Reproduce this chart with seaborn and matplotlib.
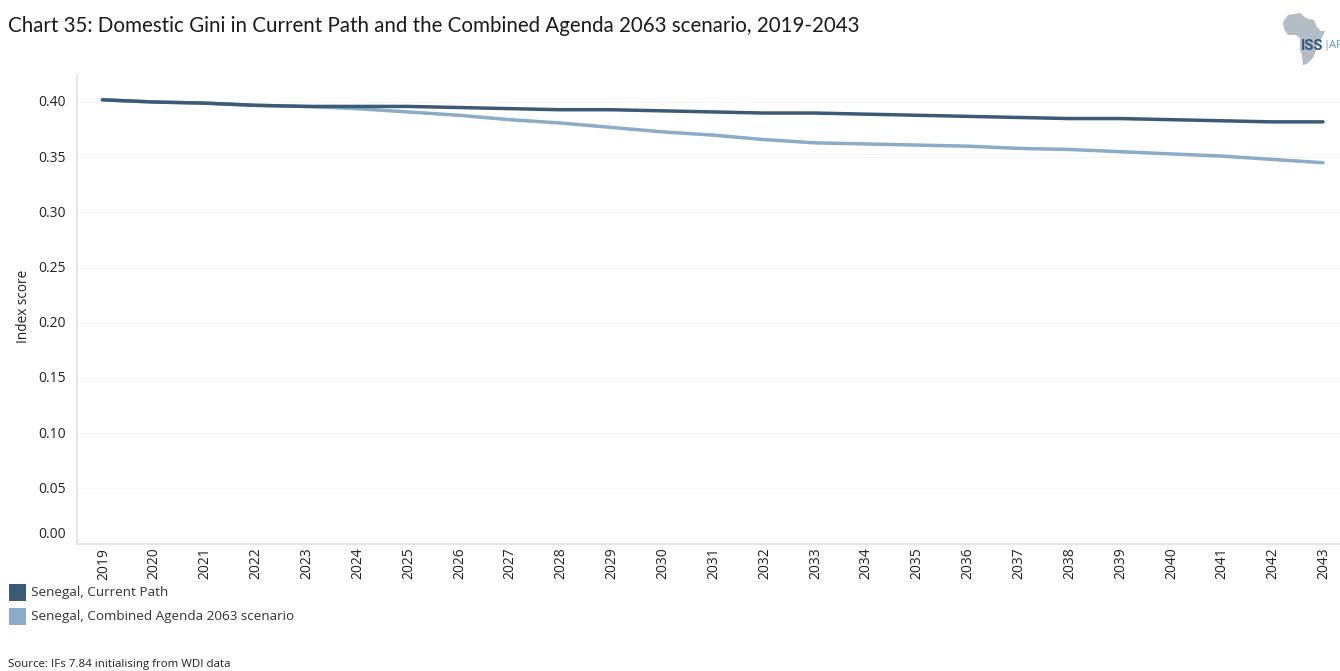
import matplotlib
matplotlib.use("Agg")
import matplotlib.pyplot as plt
from matplotlib.patches import Polygon, Rectangle
from matplotlib.transforms import ScaledTranslation
import pandas as pd
import seaborn as sns

W, H = 1340, 671

years = list(range(2019, 2044))
current_path = [0.402, 0.400, 0.399, 0.397, 0.396, 0.396, 0.396, 0.395, 0.394, 0.393, 0.393,
                0.392, 0.391, 0.390, 0.390, 0.389, 0.388, 0.387, 0.386, 0.385, 0.385,
                0.384, 0.383, 0.382, 0.382]
agenda_2063 = [0.402, 0.400, 0.399, 0.397, 0.396, 0.394, 0.391, 0.388, 0.384, 0.381, 0.377,
               0.373, 0.370, 0.366, 0.363, 0.362, 0.361, 0.360, 0.358, 0.357, 0.355,
               0.353, 0.351, 0.348, 0.345]
y_ticks = [0.00, 0.05, 0.10, 0.15, 0.20, 0.25, 0.30, 0.35, 0.40]
series_names = ["Senegal, Current Path", "Senegal, Combined Agenda 2063 scenario"]
series_colors = ["#3b5a76", "#8bacc7"]

frame = pd.concat([
    pd.DataFrame({"year": years, "gini": current_path, "series": series_names[0]}),
    pd.DataFrame({"year": years, "gini": agenda_2063, "series": series_names[1]}),
])

sns.set_theme(style="white")
plt.rcParams["font.family"] = ["Open Sans", "DejaVu Sans"]

fig = plt.figure(figsize=(W / 100, H / 100), dpi=100)

# Plot frame in pixel terms: left 77, right at the figure edge, top 75, bottom 543.5
left, right, top, bottom = 77, 1340, 75, 543.5
ax = fig.add_axes([left / W, 1 - bottom / H, (right - left) / W, (bottom - top) / H])

sns.lineplot(
    data=frame, x="year", y="gini", hue="series", hue_order=series_names[::-1],
    palette=dict(zip(series_names, series_colors)), linewidth=2.5, legend=False,
    ax=ax, solid_capstyle="round", sort=False,
)

px_per_year = (1323 - 102) / 24
ax.set_xlim(2019 - (102 - left) / px_per_year, 2019 + (right - 102) / px_per_year)
px_per_unit = (543.5 - 102) / 0.40
ax.set_ylim(0, (bottom - top) / px_per_unit)

for side in ("top", "right"):
    ax.spines[side].set_visible(False)
for side in ("left", "bottom"):
    ax.spines[side].set_color("#e2e2e2")
    ax.spines[side].set_linewidth(1.2)

ax.set_axisbelow(True)
ax.yaxis.grid(True, color="#f5f5f5", linewidth=0.8)
ax.set_yticks(y_ticks)
ax.set_yticklabels([f"{v:.2f}" for v in y_ticks], fontsize=10, color="#222222")
ax.set_xticks(years)
ax.set_xticklabels(years, rotation=90, fontsize=10, color="#222222")
ax.tick_params(axis="x", length=0, pad=3)
ax.tick_params(axis="y", length=0, pad=8)

# Faint separators between the year bands below the axis line
ax.set_xticks([y - 0.5 for y in years], minor=True)
ax.tick_params(axis="x", which="minor", length=4, width=0.8, color="#eeeeee")

# Small pixel nudges for the tick labels; the baseline label sits just above the axis line
for label in ax.get_xticklabels():
    label.set_transform(label.get_transform() + ScaledTranslation(1 / 100, 0, fig.dpi_scale_trans))
for label in ax.get_yticklabels():
    label.set_transform(label.get_transform() + ScaledTranslation(0, 1 / 100, fig.dpi_scale_trans))
ax.get_yticklabels()[0].set_verticalalignment("bottom")

ax.set_xlabel("")
ax.set_ylabel("Index score", fontsize=9.8, color="#222222")
ax.yaxis.set_label_coords((31 - left) / (right - left), 1 - (306.5 - top) / (bottom - top))


def fx(px):
    return px / W


def fy(py):
    return 1 - py / H


fig.text(fx(8), fy(26), "Chart 35: Domestic Gini in Current Path and the Combined Agenda 2063 scenario, 2019-2043",
         fontsize=14.8, family=["Lato", "DejaVu Sans"], color="#1a1a1a", va="center", ha="left")

# Legend swatches and labels
for name, color, py in zip(series_names, series_colors, [592, 616]):
    fig.add_artist(Rectangle((fx(8.5), fy(py + 8.5)), 17 / W, 17 / H, transform=fig.transFigure,
                             facecolor=color, edgecolor="none"))
    fig.text(fx(31), fy(py + 0.5), name, fontsize=9.7, color="#333333", va="center", ha="left")

fig.text(fx(8), fy(664.5), "Source: IFs 7.84 initialising from WDI data", fontsize=8.25,
         color="#222222", va="center", ha="left")

# Continental emblem in the top right corner
outline = [(1288, 15), (1300, 13), (1306, 18), (1314, 20), (1317, 27), (1321, 31), (1325, 31),
           (1322, 38), (1317, 44), (1316, 51), (1313, 58), (1307, 64), (1303, 65), (1302, 56),
           (1300, 50), (1300, 38), (1296, 35), (1288, 35), (1284, 29), (1283, 22)]
fig.add_artist(Polygon([(fx(x), fy(y)) for x, y in outline], closed=True,
                       transform=fig.transFigure, facecolor="#b4bcc6", edgecolor="none"))
fig.text(fx(1301), fy(45.5), "ISS", fontsize=10.5, family=["Liberation Sans Narrow", "Roboto"],
         color="#2f587d", va="center", ha="left", weight="bold")
fig.text(fx(1323.5), fy(45.5), "|AF", fontsize=8, color="#5b9bd0", va="center", ha="left")

fig.savefig("out.png", dpi=100, facecolor="white")
